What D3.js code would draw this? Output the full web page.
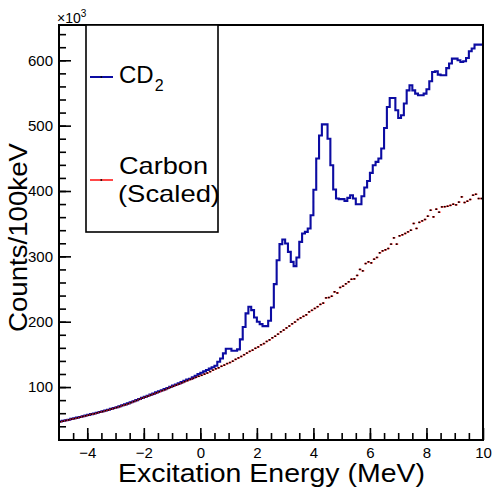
<!DOCTYPE html>
<html><head><meta charset="utf-8">
<script src="https://cdn.jsdelivr.net/npm/d3@7"></script>
<style>
body{margin:0;background:#fff}
svg{display:block}
text{font-family:"Liberation Sans",Arial,Helvetica,sans-serif;fill:#000}
</style>
</head><body>
<svg id="chart" width="494" height="492"></svg>
<script>
// Histogram binning: 100 keV bins from -5 to 10 MeV
const binStart = -5;
const binWidth = 0.1;

// CD2 target spectrum, counts per 100 keV (x10^3)
const cd2Counts = [
  47.3, 48.2, 49.2, 50.1, 51.3, 52.2, 53.2, 54.2, 55.3, 56.4,
  57.4, 58.6, 59.6, 60.8, 61.9, 63.0, 64.2, 65.3, 66.6, 67.9,
  69.2, 70.6, 72.1, 73.5, 75.0, 76.7, 78.3, 80.0, 81.7, 83.4,
  85.0, 86.7, 88.4, 90.0, 91.8, 93.5, 95.2, 96.8, 98.6, 100.4,
  102.3, 104.0, 105.7, 107.6, 109.6, 111.5, 112.6, 114.8, 117.2, 119.9,
  122.0, 124.0, 126.0, 128.2, 130.4, 132.5, 138.7, 143.8, 151.5, 158.6,
  158.6, 155.5, 155.5, 157.6, 172.9, 192.0, 212.7, 222.8, 217.7, 206.5,
  199.9, 196.3, 193.3, 193.3, 201.4, 221.8, 257.5, 294.0, 318.7, 325.8,
  319.7, 306.9, 291.6, 285.0, 298.3, 322.2, 335.0, 337.5, 342.7, 363.0,
  402.0, 449.7, 485.0, 502.0, 502.0, 480.0, 439.4, 402.3, 388.5, 387.5,
  387.5, 384.9, 389.5, 393.6, 388.5, 379.8, 379.8, 392.0, 405.3, 415.4,
  427.7, 439.4, 444.5, 449.7, 465.0, 496.5, 528.6, 542.4, 542.4, 523.5,
  511.8, 515.9, 533.8, 554.0, 561.8, 554.0, 549.0, 546.5, 546.5, 549.0,
  555.6, 567.9, 582.0, 583.0, 578.0, 577.0, 577.0, 588.0, 595.0, 602.6,
  602.6, 600.0, 597.4, 598.5, 603.5, 613.8, 618.0, 624.0, 624.0, 624.0
];

// Carbon target spectrum, scaled to the CD2 run (x10^3)
const carbonCounts = [
  47.0, 47.8, 48.9, 49.8, 51.0, 51.8, 52.9, 53.8, 55.0, 56.1,
  57.0, 58.3, 59.2, 60.5, 61.6, 62.5, 63.9, 64.8, 66.3, 67.4,
  68.8, 70.1, 71.8, 73.0, 74.6, 76.2, 77.9, 79.5, 81.2, 83.0,
  84.6, 86.1, 87.9, 89.4, 91.2, 92.8, 94.5, 96.0, 97.9, 99.6,
  101.2, 103.0, 104.6, 106.5, 108.3, 109.9, 111.6, 113.2, 114.9, 116.5,
  118.0, 119.8, 121.5, 123.6, 125.9, 128.0, 129.5, 131.8, 133.6, 135.9,
  137.5, 139.6, 142.4, 144.6, 146.8, 149.5, 152.0, 154.6, 156.5, 159.3,
  161.4, 164.6, 166.5, 169.8, 172.2, 175.4, 177.8, 181.0, 184.6, 187.2,
  190.5, 193.4, 196.8, 199.5, 203.3, 205.8, 208.2, 210.5, 215.0, 217.4,
  220.3, 223.0, 226.5, 228.5, 236.5, 237.0, 239.0, 245.7, 244.0, 252.4,
  254.4, 258.0, 261.0, 265.0, 265.5, 270.8, 280.0, 277.8, 289.0, 291.6,
  290.0, 295.7, 298.3, 305.4, 308.4, 310.0, 312.0, 318.7, 328.3, 318.7,
  331.4, 333.0, 335.0, 337.5, 340.0, 350.3, 342.7, 352.0, 354.3, 356.4,
  361.5, 370.6, 360.4, 372.2, 367.6, 375.7, 376.0, 376.7, 378.0, 379.8,
  378.8, 383.0, 391.0, 382.4, 384.4, 387.0, 393.6, 395.0, 388.5, 388.5
];

const xTickValues = [-4, -2, 0, 2, 4, 6, 8, 10];
const xTickLabels = ["\u22124", "\u22122", "0", "2", "4", "6", "8", "10"];
const yTickValues = [100, 200, 300, 400, 500, 600];
const yTickLabels = ["100", "200", "300", "400", "500", "600"];
const legendLabels = ["CD", "2", "Carbon", "(Scaled)"];
const xTitle = "Excitation Energy (MeV)";
const yTitle = "Counts/100keV";

const svg = d3.select("#chart");
const L = 59, R = 483, T = 25, B = 440;

const x = d3.scaleLinear().domain([-5, 10]).range([L, R]);
const y = d3.scaleLinear().domain([19, 654]).range([B, T]);

svg.append("rect").attr("width", 494).attr("height", 492).attr("fill", "#fff");

svg.append("defs").append("clipPath").attr("id", "plotClip")
  .append("rect").attr("x", L).attr("y", T).attr("width", R - L).attr("height", B - T);

const plot = svg.append("g").attr("clip-path", "url(#plotClip)");

// CD2: stepped histogram outline
const cd2Steps = cd2Counts.map((v, i) => [binStart + i * binWidth, v]);
cd2Steps.push([binStart + cd2Counts.length * binWidth, cd2Counts[cd2Counts.length - 1]]);
plot.append("path")
  .datum(cd2Steps)
  .attr("fill", "none")
  .attr("stroke", "#0c0ca2")
  .attr("stroke-width", 2.1)
  .attr("d", d3.line().x(d => x(d[0])).y(d => y(d[1])).curve(d3.curveStepAfter));

// Carbon: per-bin horizontal bars with a small black marker
const carbonG = plot.append("g");
carbonG.selectAll("line").data(carbonCounts).join("line")
  .attr("x1", (d, i) => x(binStart + i * binWidth))
  .attr("x2", (d, i) => x(binStart + (i + 1) * binWidth))
  .attr("y1", d => y(d)).attr("y2", d => y(d))
  .attr("stroke", "#ff1a1a").attr("stroke-width", 1.4);
carbonG.selectAll("rect").data(carbonCounts).join("rect")
  .attr("x", (d, i) => x(binStart + (i + 0.5) * binWidth) - 0.9)
  .attr("y", d => y(d) - 0.8)
  .attr("width", 1.6).attr("height", 1.6)
  .attr("fill", "#000");

// Axes (ticks point into the frame)
const xMinor = d3.range(-4.5, 10, 0.5);
svg.append("g").attr("transform", `translate(0,${B})`)
  .call(d3.axisBottom(x).tickValues(xMinor).tickSizeInner(-7).tickSizeOuter(0).tickFormat(""))
  .call(g => g.select(".domain").remove())
  .call(g => g.selectAll("line").attr("stroke", "#000").attr("stroke-width", 1.6));
svg.append("g").attr("transform", `translate(0,${B})`)
  .call(d3.axisBottom(x).tickValues(xTickValues).tickSizeInner(-12).tickSizeOuter(0).tickPadding(7)
    .tickFormat((d, i) => xTickLabels[i]))
  .call(g => g.select(".domain").remove())
  .call(g => g.selectAll("line").attr("stroke", "#000").attr("stroke-width", 1.6))
  .call(g => g.selectAll("text").attr("font-size", 15).attr("font-family", "Liberation Sans, Arial, sans-serif").attr("fill", "#000"));

const yMinor = d3.range(20, 654, 20);
svg.append("g").attr("transform", `translate(${L},0)`)
  .call(d3.axisLeft(y).tickValues(yMinor).tickSizeInner(-7).tickSizeOuter(0).tickFormat(""))
  .call(g => g.select(".domain").remove())
  .call(g => g.selectAll("line").attr("stroke", "#000").attr("stroke-width", 1.6));
svg.append("g").attr("transform", `translate(${L},0)`)
  .call(d3.axisLeft(y).tickValues(yTickValues).tickSizeInner(-12).tickSizeOuter(0).tickPadding(6)
    .tickFormat((d, i) => yTickLabels[i]))
  .call(g => g.select(".domain").remove())
  .call(g => g.selectAll("line").attr("stroke", "#000").attr("stroke-width", 1.6))
  .call(g => g.selectAll("text").attr("font-size", 15).attr("font-family", "Liberation Sans, Arial, sans-serif").attr("fill", "#000"));

// Frame
const frame = svg.append("g").attr("stroke", "#000").attr("stroke-width", 2).attr("fill", "none");
frame.append("rect").attr("x", L).attr("y", T).attr("width", R - L).attr("height", B - T);

// Exponent label
const expo = svg.append("text").attr("x", 57).attr("y", 22.5).attr("font-size", 14);
expo.append("tspan").text("\u00d710");
expo.append("tspan").attr("font-size", 10).attr("dy", -6).text("3");

// Axis titles
svg.append("text").attr("x", 118).attr("y", 482).attr("font-size", 25)
  .attr("textLength", 307).attr("lengthAdjust", "spacingAndGlyphs").text(xTitle);
svg.append("text").attr("transform", "translate(27,332) rotate(-90)").attr("font-size", 26)
  .attr("textLength", 189).attr("lengthAdjust", "spacingAndGlyphs").text(yTitle);

// Legend
const leg = svg.append("g");
leg.append("rect").attr("x", 86).attr("y", 25).attr("width", 132).attr("height", 207)
  .attr("fill", "#fff").attr("stroke", "#000").attr("stroke-width", 1.6);
leg.append("line").attr("x1", 90).attr("x2", 113).attr("y1", 77).attr("y2", 77)
  .attr("stroke", "#0c0ca2").attr("stroke-width", 2);
leg.append("rect").attr("x", 100.5).attr("y", 76.2).attr("width", 1.6).attr("height", 1.6).attr("fill", "#000");
leg.append("line").attr("x1", 90).attr("x2", 113).attr("y1", 180).attr("y2", 180)
  .attr("stroke", "#ff1a1a").attr("stroke-width", 1.6);
leg.append("rect").attr("x", 100.5).attr("y", 179.2).attr("width", 1.6).attr("height", 1.6).attr("fill", "#000");

const cdText = leg.append("text").attr("x", 119).attr("y", 82.7).attr("font-size", 24);
cdText.append("tspan").text(legendLabels[0]);
cdText.append("tspan").attr("font-size", 16).attr("dy", 8).attr("dx", 1).text(legendLabels[1]);
leg.append("text").attr("x", 119).attr("y", 174).attr("font-size", 24)
  .attr("textLength", 89).attr("lengthAdjust", "spacingAndGlyphs").text(legendLabels[2]);
leg.append("text").attr("x", 118).attr("y", 201.5).attr("font-size", 24)
  .attr("textLength", 102).attr("lengthAdjust", "spacingAndGlyphs").text(legendLabels[3]);
</script>
</body></html>
